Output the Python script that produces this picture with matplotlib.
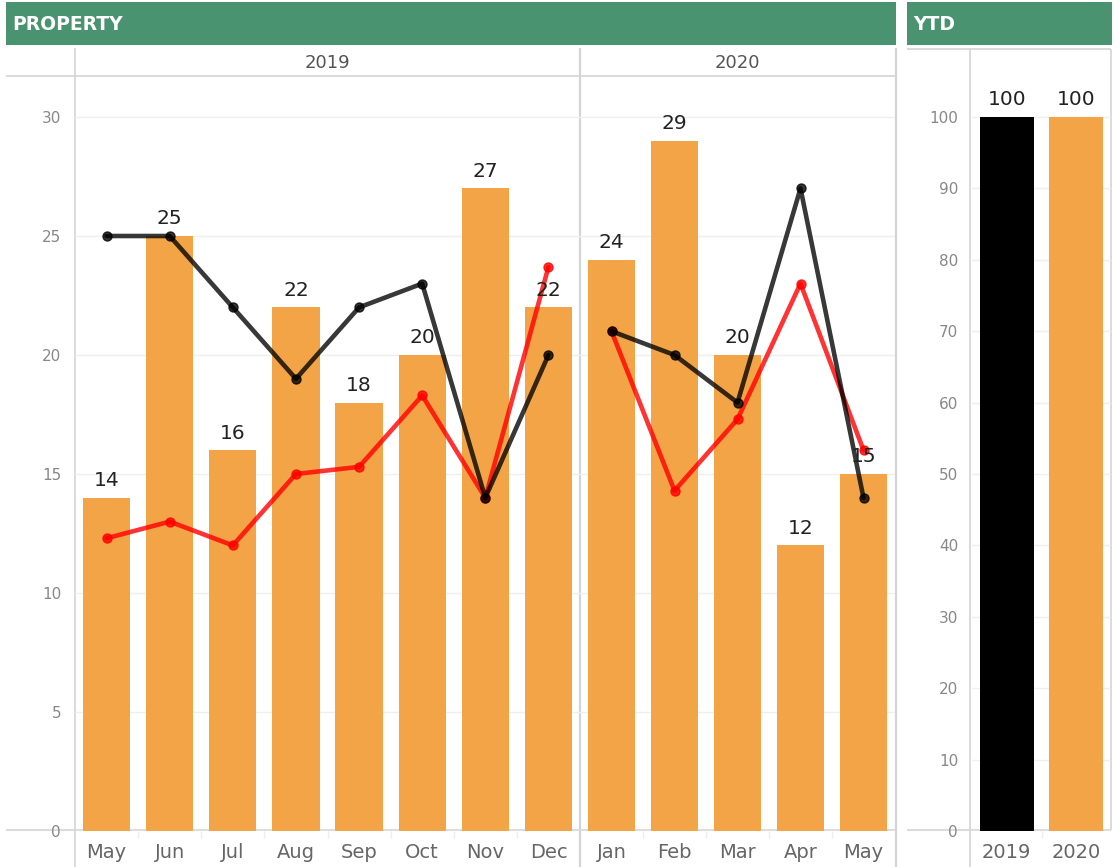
import matplotlib
matplotlib.use("Agg")
import matplotlib.pyplot as plt
from matplotlib.patches import Rectangle

# ---------------- data ----------------
months_2019 = ["May", "Jun", "Jul", "Aug", "Sep", "Oct", "Nov", "Dec"]
months_2020 = ["Jan", "Feb", "Mar", "Apr", "May"]
bars_2019 = [14, 25, 16, 22, 18, 20, 27, 22]
bars_2020 = [24, 29, 20, 12, 15]
black_2019 = [25, 25, 22, 19, 22, 23, 14, 20]
black_2020 = [21, 20, 18, 27, 14]
red_2019 = [12.3, 13, 12, 15, 15.3, 18.3, 14, 23.7]
red_2020 = [21, 14.3, 17.3, 23, 16]
ytd_years = ["2019", "2020"]
ytd_values = [100, 100]
ytd_colors = ["#000000", "#f2a446"]

W, H = 1120, 867
fig = plt.figure(figsize=(W / 100, H / 100), dpi=100)

ORANGE = "#f2a446"
GREEN = "#4a9370"
BORDER = "#d4d4d4"
GRID = "#efefef"
TICKC = "#888888"
LABC = "#666666"
FONT = "DejaVu Sans"


def px_axes(x0, y0, x1, y1, **kw):
    return fig.add_axes([x0 / W, 1 - y1 / H, (x1 - x0) / W, (y1 - y0) / H], **kw)


# overlay for structure
ov = px_axes(0, 0, W, H, zorder=0)
ov.set_xlim(0, W)
ov.set_ylim(H, 0)
ov.axis("off")

ov.add_patch(Rectangle((6, 2), 890, 43, color=GREEN, lw=0))
ov.add_patch(Rectangle((907, 2), 205, 43, color=GREEN, lw=0))
ov.text(12, 24, "PROPERTY", color="white", fontsize=13.5, fontweight="bold",
        va="center", ha="left", family=FONT)
ov.text(913, 24, "YTD", color="white", fontsize=13.5, fontweight="bold",
        va="center", ha="left", family=FONT)

def hl(y, x0, x1, lw=1.2, c=BORDER):
    ov.plot([x0, x1], [y, y], color=c, lw=lw, solid_capstyle="butt")

def vl(x, y0, y1, lw=1.2, c=BORDER):
    ov.plot([x, x], [y0, y1], color=c, lw=lw, solid_capstyle="butt")

hl(76, 6, 895)
hl(830, 6, 895)
vl(75, 48, 867)
vl(580, 48, 867, lw=1.6)
vl(895.5, 48, 867, lw=1.6)
hl(49, 907, 1111)
hl(830, 907, 1111)
vl(970, 49, 867)
vl(1111, 49, 830)

ov.text(327.5, 62.5, "2019", color="#555555", fontsize=13, ha="center", va="center", family=FONT)
ov.text(737.5, 62.5, "2020", color="#555555", fontsize=13, ha="center", va="center", family=FONT)

YMAX = (831 - 76) / 23.8


def pane(x0, x1, labels, bars, blk, red, show_y):
    ax = px_axes(x0, 76, x1, 831, zorder=2)
    ax.set_facecolor("none")
    n = len(labels)
    xs = list(range(n))
    ax.set_xlim(-0.5, n - 0.5)
    ax.set_ylim(0, YMAX)
    for y in range(0, 31, 5):
        ax.axhline(y, color=GRID, lw=1, zorder=0)
    ax.bar(xs, bars, width=0.75, color=ORANGE, zorder=1)
    for x, v in zip(xs, bars):
        ax.annotate(str(v), (x, v), xytext=(0, 5.5), textcoords="offset points",
                    ha="center", va="bottom", fontsize=14.5, color="#222222", family=FONT, zorder=5)
    ax.plot(xs, red, color="#ff0000", alpha=0.8, lw=3.3, marker="o", ms=6.5,
            solid_capstyle="round", zorder=3)
    ax.plot(xs, blk, color="#000000", alpha=0.78, lw=3.3, marker="o", ms=6.5,
            solid_capstyle="round", zorder=4)
    ax.set_xticks(xs)
    ax.set_xticklabels(labels, fontsize=14, color=LABC, family=FONT)
    ax.tick_params(axis="x", length=0, pad=9)
    ax.set_xticks([i + 0.5 for i in range(n - 1)], minor=True)
    ax.tick_params(axis="x", which="minor", length=5, color="#eeeeee", width=1)
    ax.set_yticks(range(0, 31, 5))
    if show_y:
        ax.set_yticklabels([str(v) for v in range(0, 31, 5)], fontsize=11,
                           color=TICKC, family=FONT)
        ax.tick_params(axis="y", length=0, pad=10)
    else:
        ax.tick_params(axis="y", length=0, labelleft=False)
    for s in ax.spines.values():
        s.set_visible(False)
    return ax


pane(75, 580, months_2019, bars_2019, black_2019, red_2019, True)
pane(580, 895, months_2020, bars_2020, black_2020, red_2020, False)

# YTD pane
ax3 = px_axes(972, 76, 1111, 831, zorder=2)
ax3.set_facecolor("none")
ax3.set_xlim(-0.5, 1.5)
ax3.set_ylim(0, (831 - 76) / 7.14)
for y in range(0, 101, 10):
    ax3.axhline(y, color=GRID, lw=1, zorder=0)
ax3.bar([0, 1], ytd_values, width=0.77, color=ytd_colors, zorder=1)
for x, v in zip([0, 1], ytd_values):
    ax3.annotate(str(v), (x, v), xytext=(0, 5.5), textcoords="offset points",
                 ha="center", va="bottom", fontsize=14.5, color="#222222", family=FONT)
ax3.set_xticks([0, 1])
ax3.set_xticklabels(ytd_years, fontsize=14, color=LABC, family=FONT)
ax3.tick_params(axis="x", length=0, pad=9)
ax3.set_xticks([0.5], minor=True)
ax3.tick_params(axis="x", which="minor", length=5, color="#eeeeee", width=1)
ax3.set_yticks(range(0, 101, 10))
ax3.set_yticklabels([str(v) for v in range(0, 101, 10)], fontsize=11, color=TICKC, family=FONT)
ax3.tick_params(axis="y", length=0, pad=10)
for s in ax3.spines.values():
    s.set_visible(False)

fig.savefig("out.png", dpi=100)
